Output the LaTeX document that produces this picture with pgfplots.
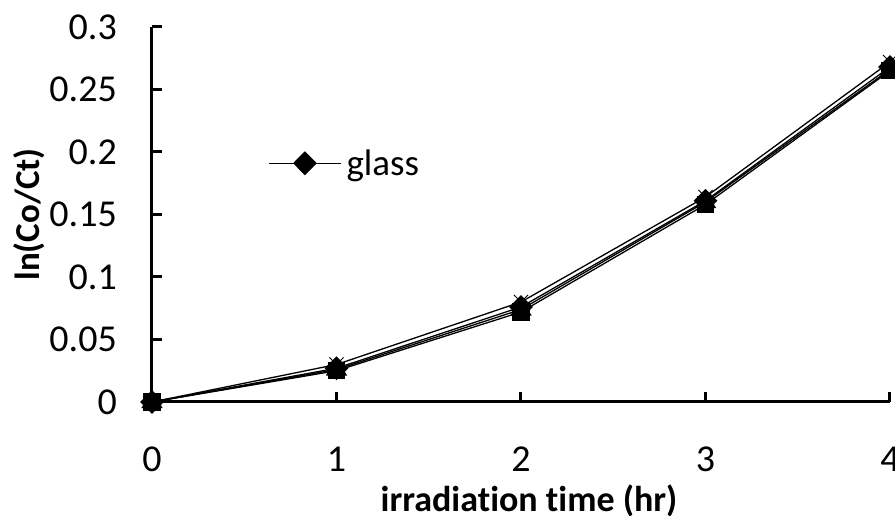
\documentclass[border=0pt]{standalone}
\usepackage{fontspec}
\setmainfont{Carlito}[Ligatures=NoCommon]
\usepackage{pgfplots}
\pgfplotsset{compat=1.18}

\begin{document}
\begin{tikzpicture}
\begin{axis}[
    scale only axis,
    width=738pt,
    height=375pt,
    xmin=0, xmax=4,
    ymin=0, ymax=0.3,
    axis lines=left,
    axis line style={line width=3pt, -},
    tick style={line width=3pt, black},
    major tick length=10pt,
    tick align=inside,
    xtick={0,1,2,3,4},
    xticklabels={0,1,2,3,4},
    ytick={0,0.05,0.1,0.15,0.2,0.25,0.3},
    yticklabels={0,0.05,0.1,0.15,0.2,0.25,0.3},
    xtick pos=bottom, ytick pos=left,
    ticklabel style={font=\fontsize{38}{42}\selectfont, inner sep=0pt},
    xticklabel style={anchor=north, yshift=-45pt},
    yticklabel style={anchor=east, xshift=-35pt},
    xlabel={irradiation time (hr)},
    ylabel={ln(Co/Ct)},
    every axis x label/.style={at={(rel axis cs:0.5,0)}, anchor=base, xshift=8pt, yshift=-110pt, font=\fontsize{36}{40}\selectfont\bfseries},
    every axis y label/.style={at={(rel axis cs:0,0.5)}, xshift=-123pt, rotate=90, anchor=center, font=\fontsize{35}{40}\selectfont\bfseries},
    clip=false,
    legend style={at={(axis cs:0.629,0.191)}, anchor=west, draw=none, fill=none,
        inner sep=0pt, font=\fontsize{37}{40}\selectfont},
    legend cell align=left,
    legend image code/.code={\draw[mark repeat=2,mark phase=2,#1] plot coordinates {(0pt,0pt)(36pt,0pt)(72pt,0pt)};},
    legend style={/tikz/every even column/.append style={column sep=0pt}, nodes={inner xsep=5pt}},
]
\addplot[black, line width=1.3pt, mark=diamond*, mark size=11pt, mark options={xscale=1.33, solid}] coordinates {
    (0,0) (1,0.027) (2,0.076) (3,0.161) (4,0.268)
};
\addplot[black, line width=1.3pt, mark=square*, mark size=8pt] coordinates {
    (0,0) (1,0.025) (2,0.072) (3,0.158) (4,0.265)
};
\addplot[black, line width=1.3pt, mark=triangle*, mark size=11pt] coordinates {
    (0,0) (1,0.026) (2,0.074) (3,0.160) (4,0.266)
};
\addplot[black, line width=1.3pt, mark=x, mark size=10pt, mark options={line width=1pt}] coordinates {
    (0,0) (1,0.030) (2,0.080) (3,0.164) (4,0.272)
};
\legend{glass}
\coordinate (o) at (rel axis cs:0,0);
\end{axis}
\pgfresetboundingbox
\path ([shift={(-152pt,-114pt)}]o) rectangle ++(895pt,516pt);
\end{tikzpicture}
\end{document}
